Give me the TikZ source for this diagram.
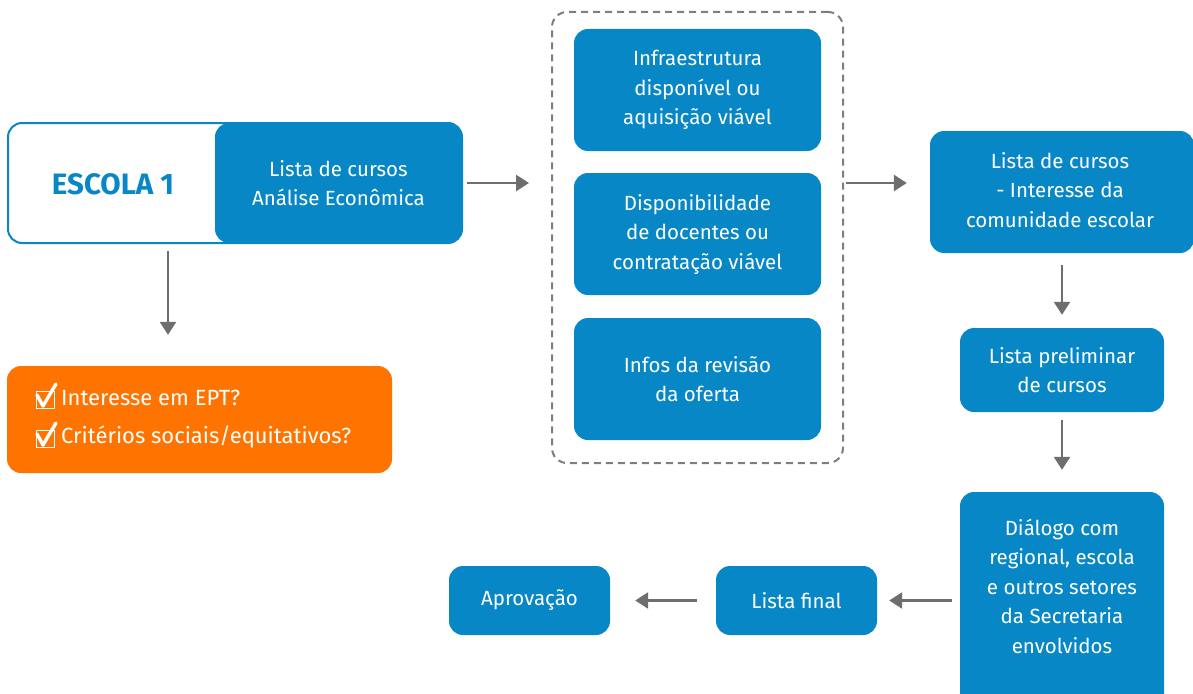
\documentclass[tikz,border=0pt]{standalone}
\usepackage{fontspec}
\setmainfont{Fira Sans}
\usetikzlibrary{arrows.meta,calc}
\definecolor{myblue}{HTML}{0787C6}
\definecolor{myorange}{HTML}{FF7300}
\definecolor{arrgray}{HTML}{6E6E70}
\definecolor{dashgray}{HTML}{7E7E80}
\begin{document}
\begin{tikzpicture}[x=1pt,y=-1pt,
  bbox/.style={fill=myblue,rounded corners=14pt,text=white,align=center,inner sep=0pt,
    font=\fontsize{20.5}{29.5}\selectfont},
  arr/.style={draw=arrgray,line width=2.6pt,-{Triangle[length=13pt,width=16pt]}},
  chk/.style={draw=white,line width=1pt},
  chkmark/.style={draw=white,line width=3.4pt,line cap=round,line join=round}]
\useasboundingbox (0,0) rectangle (1193,693);
\clip (0,0) rectangle (1193,693);
% Escola
\node[draw=myblue,line width=2pt,fill=white,rounded corners=14pt,minimum width=454pt,minimum height=120pt,inner sep=0pt] (escola) at (235,183) {};
\node[bbox,minimum width=247pt,minimum height=120pt] (lista) at (338.5,183) {Lista de cursos\\Análise Econômica};
\node[text=myblue,font=\fontsize{29.5}{30}\selectfont\bfseries,inner sep=0pt] (esc) at (113,184) {ESCOLA 1};
% orange
\node[fill=myorange,rounded corners=14pt,minimum width=385pt,minimum height=107pt,inner sep=0pt] (orange) at (199.5,419.5) {};
\node[anchor=west,text=white,inner sep=0pt,font=\fontsize{22}{24}\selectfont] (int) at (61,398) {Interesse em EPT?};
\node[anchor=west,text=white,inner sep=0pt,font=\fontsize{22}{24}\selectfont] (crit) at (61,437) {Critérios sociais/equitativos?};
\foreach \yy in {0,39}{
  \draw[chk] (36,391+\yy) rectangle (54,408+\yy);
  \draw[chkmark] (37,395+\yy) -- (43,406+\yy) -- (56,384+\yy);
}
% dashed
\node[draw=dashgray,dash pattern=on 7pt off 5pt,line width=2pt,rounded corners=15pt,minimum width=291pt,minimum height=451pt,inner sep=0pt] (dash) at (697.5,237.5) {};
\node[bbox,minimum width=247pt,minimum height=122pt] (infra) at (697.5,90) {Infraestrutura\\disponível ou\\aquisição viável};
\node[bbox,minimum width=247pt,minimum height=122pt] (doc) at (697.5,234) {Disponibilidade\\de docentes ou\\contratação viável};
\node[bbox,minimum width=247pt,minimum height=122pt] (infos) at (697.5,379) {Infos da revisão\\da oferta};
% right column
\node[bbox,minimum width=264pt,minimum height=122pt] (r1) at (1062,192) {};
\node[text=white,align=center,inner sep=0pt,font=\fontsize{20.5}{29.5}\selectfont] (r1t) at (1060,190) {Lista de cursos\\- Interesse da\\comunidade escolar};
\node[bbox,minimum width=204pt,minimum height=84pt] (prelim) at (1062,370) {Lista preliminar\\de cursos};
\node[bbox,minimum width=204pt,minimum height=216pt] (dialog) at (1062,600) {};
\node[text=white,align=center,inner sep=0pt,font=\fontsize{20.5}{29.5}\selectfont] (dialogt) at (1062,586) {Diálogo com\\regional, escola\\e outros setores\\da Secretaria\\envolvidos};
\node[bbox,minimum width=161pt,minimum height=69pt] (final) at (796.5,600.5) {Lista final};
\node[bbox,minimum width=161pt,minimum height=69pt] (aprov) at (529.5,600.5) {Aprovação};
% arrows
\draw[arr] ([xshift=-67pt,yshift=-7pt]escola.south) -- ([xshift=-31.5pt,yshift=31pt]orange.north);
\draw[arr] ([xshift=5pt]lista.east) -- ([xshift=-22pt]dash.west |- lista.east);
\draw[arr] ([xshift=2pt]dash.east |- lista.east) -- ([xshift=-23pt]r1.west |- lista.east);
\draw[arr] ([yshift=-12pt]r1.south) -- ([yshift=13pt]prelim.north);
\draw[arr] ([yshift=-8pt]prelim.south) -- ([yshift=22pt]dialog.north);
\draw[arr] ([xshift=-8pt]dialog.west |- final.east) -- ([xshift=12pt]final.east);
\draw[arr] ([xshift=-19pt]final.west) -- ([xshift=25pt]aprov.east);
\end{tikzpicture}
\end{document}
